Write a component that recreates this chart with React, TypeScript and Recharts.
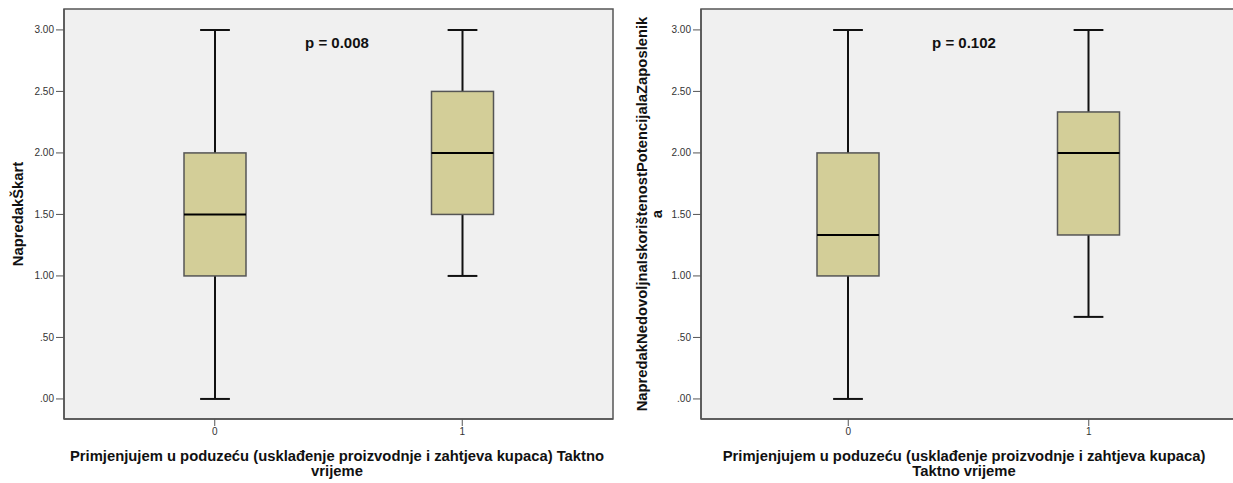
import React from "react";
import { ComposedChart, Bar, XAxis, YAxis, CartesianGrid, ReferenceArea } from "recharts";

const categories = ["0", "1"];
const yTicks = [0, 0.5, 1, 1.5, 2, 2.5, 3];
const yDomain = [-0.163, 3.17];

// NapredakŠkart
const leftMin = [0, 1];
const leftQ1 = [1, 1.5];
const leftMedian = [1.5, 2];
const leftQ3 = [2, 2.5];
const leftMax = [3, 3];
const leftP = "p = 0.008";

// NapredakNedovoljnaIskorištenostPotencijalaZaposlenika
const rightMin = [0, 0.667];
const rightQ1 = [1, 1.333];
const rightMedian = [1.333, 2];
const rightQ3 = [2, 2.333];
const rightMax = [3, 3];
const rightP = "p = 0.102";

const FONT = "'Liberation Sans', Arial, sans-serif";

const buildRows = (mn: number[], q1: number[], md: number[], q3: number[], mx: number[]) =>
  categories.map((cat, i) => ({ cat, min: mn[i], q1: q1[i], median: md[i], q3: q3[i], max: mx[i] }));

const fmtTick = (v: number) => (v < 1 ? v.toFixed(2).replace(/^0/, "") : v.toFixed(2));

const BoxShape = (props: any) => {
  const { x, y, width, height, payload } = props;
  const top = Math.min(y, y + height);
  const h = Math.abs(height);
  const span = payload.max - payload.min;
  const py = (v: number) => top + ((payload.max - v) / span) * h;
  const cx = x + width / 2;
  const cap = width * 0.24;
  return (
    <g>
      <line x1={cx} x2={cx} y1={py(payload.max)} y2={py(payload.q3)} stroke="#111" strokeWidth={2} />
      <line x1={cx} x2={cx} y1={py(payload.q1)} y2={py(payload.min)} stroke="#111" strokeWidth={2} />
      <line x1={cx - cap} x2={cx + cap} y1={py(payload.max)} y2={py(payload.max)} stroke="#111" strokeWidth={2} />
      <line x1={cx - cap} x2={cx + cap} y1={py(payload.min)} y2={py(payload.min)} stroke="#111" strokeWidth={2} />
      <rect
        x={x}
        y={py(payload.q3)}
        width={width}
        height={py(payload.q1) - py(payload.q3)}
        fill="#D3CE98"
        stroke="#555"
        strokeWidth={1.5}
      />
      <line x1={x} x2={x + width} y1={py(payload.median)} y2={py(payload.median)} stroke="#000" strokeWidth={2} />
    </g>
  );
};

interface PanelProps {
  rows: any[];
  yLines: string[];
  yLabelX: number[];
  xLines: string[];
  centerX: number;
  pText: string;
  yAxisWidth: number;
  rightMargin: number;
  pad: number;
}

function Panel({ rows, yLines, yLabelX, xLines, centerX, pText, yAxisWidth, rightMargin, pad }: PanelProps) {
  const axisColor = "#555";
  return (
    <ComposedChart
      width={620}
      height={483}
      data={rows}
      margin={{ top: 9, right: rightMargin, left: 0, bottom: 0 }}
      style={{ fontFamily: FONT }}
    >
      <CartesianGrid fill="#F0F0F0" horizontal={false} vertical={false} />
      <XAxis
        dataKey="cat"
        type="category"
        padding={{ left: pad, right: pad }}
        height={64}
        tickSize={7}
        tickMargin={2}
        tick={{ fontSize: 10, fill: "#333", fontFamily: FONT }}
        tickLine={{ stroke: axisColor }}
        axisLine={{ stroke: axisColor, strokeWidth: 1.5 }}
        label={{
          content: () => (
            <text textAnchor="middle" fontSize={14.8} fontWeight="bold" fill="#111" fontFamily={FONT}>
              {xLines.map((l, i) => (
                <tspan key={i} x={centerX} y={461 + i * 15}>
                  {l}
                </tspan>
              ))}
            </text>
          ),
        }}
      />
      {/* hidden 0..1 axis spanning the whole plot, used only for the frame */}
      <XAxis xAxisId="frame" type="number" domain={[0, 1]} hide />
      <YAxis
        type="number"
        domain={yDomain}
        ticks={yTicks}
        allowDataOverflow
        width={yAxisWidth}
        tickFormatter={fmtTick}
        tickSize={8}
        tickMargin={2}
        tick={{ fontSize: 10, fill: "#333", fontFamily: FONT }}
        tickLine={{ stroke: axisColor }}
        axisLine={{ stroke: axisColor, strokeWidth: 1.5 }}
        label={{
          content: () => (
            <g>
              {yLines.map((l, i) => (
                <text
                  key={i}
                  x={yLabelX[i]}
                  y={214}
                  transform={`rotate(-90, ${yLabelX[i]}, 214)`}
                  textAnchor="middle"
                  fontSize={14.8}
                  fontWeight="bold"
                  fill="#111"
                  fontFamily={FONT}
                >
                  {l}
                </text>
              ))}
            </g>
          ),
        }}
      />
      <Bar
        dataKey={(d: any) => [d.min, d.max]}
        barSize={62}
        shape={<BoxShape />}
        isAnimationActive={false}
      />
      <ReferenceArea
        xAxisId="frame"
        x1={0}
        x2={1}
        y1={yDomain[0]}
        y2={yDomain[1]}
        fill="none"
        fillOpacity={0}
        stroke={axisColor}
        strokeWidth={1.5}
        ifOverflow="visible"
        label={{
          content: () => (
            <text x={centerX} y={48} textAnchor="middle" fontSize={15} fontWeight="bold" fill="#111" fontFamily={FONT}>
              {pText}
            </text>
          ),
        }}
      />
    </ComposedChart>
  );
}

export default function App() {
  const leftRows = buildRows(leftMin, leftQ1, leftMedian, leftQ3, leftMax);
  const rightRows = buildRows(rightMin, rightQ1, rightMedian, rightQ3, rightMax);
  return (
    <div
      style={{
        position: "absolute",
        left: 0,
        top: 0,
        width: 1233,
        height: 483,
        overflow: "hidden",
        background: "#fff",
      }}
    >
      <div style={{ position: "absolute", left: 0, top: 0 }}>
        <Panel
          rows={leftRows}
          yLines={["NapredakŠkart"]}
          yLabelX={[23]}
          xLines={["Primjenjujem u poduzeću (usklađenje proizvodnje i zahtjeva kupaca) Taktno", "vrijeme"]}
          centerX={337}
          pText={leftP}
          yAxisWidth={64}
          rightMargin={7}
          pad={27}
        />
      </div>
      <div style={{ position: "absolute", left: 620, top: 0 }}>
        <Panel
          rows={rightRows}
          yLines={["NapredakNedovoljnaIskorištenostPotencijalaZaposlenik", "a"]}
          yLabelX={[27, 42]}
          xLines={["Primjenjujem u poduzeću (usklađenje proizvodnje i zahtjeva kupaca)", "Taktno vrijeme"]}
          centerX={344}
          pText={rightP}
          yAxisWidth={81}
          rightMargin={4}
          pad={27}
        />
      </div>
    </div>
  );
}
